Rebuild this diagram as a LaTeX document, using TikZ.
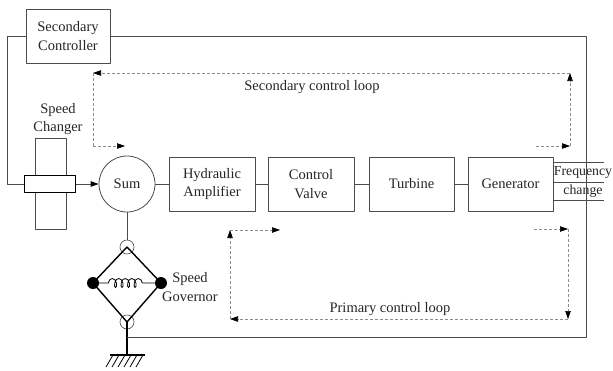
\documentclass[tikz,border=0pt]{standalone}
\usepackage{fontspec}
\setmainfont{Liberation Serif}
\usetikzlibrary{arrows.meta,decorations.pathmorphing}
\begin{document}
\begin{tikzpicture}[x=1pt,y=-1pt,line join=round,font=\fontsize{14.5}{18.5}\selectfont,text=black!85,
	>={Triangle[length=8pt,width=5.5pt,color=black]},
	ln/.style={draw=black!70,line width=0.8pt},
	blk/.style={ln,minimum width=86pt,minimum height=54pt,align=center,inner sep=0pt},
	lp/.style={densely dashed,draw=black!45,line width=0.6pt},
	pivot/.style={circle,draw=black!70,line width=0.6pt,minimum size=14pt,inner sep=0pt},
	ball/.style={circle,fill=black,minimum size=12pt,inner sep=0pt}]
	\useasboundingbox (0,0) rectangle (613,370);
	\node[blk,minimum width=84pt] (sec) at (68,36) {Secondary\\Controller};
	\node[ln,minimum width=31pt,minimum height=91pt,inner sep=0pt] (chgv) at (50.5,183.5) {};
	\node[draw,fill=white,line width=1.5pt,minimum width=51pt,minimum height=17pt,inner sep=0pt] (chg) at (50,184) {};
	\node[align=center] (chglbl) at (58,119) {Speed\\Changer};
	\node[ln,circle,minimum size=56pt,inner sep=0pt] (sum) at (127,184) {Sum};
	\node[blk] (hyd) at (212,184) {Hydraulic\\Amplifier};
	\node[blk] (val) at (311,184) {Control\\Valve};
	\node[blk,minimum width=85pt] (tur) at (411.5,184) {Turbine};
	\node[blk,minimum width=85pt] (gen) at (510.5,184) {Generator};
	\node[align=center,inner sep=0pt,font=\fontsize{13.8}{18.5}\selectfont] (frq) at (583,182) {Frequency\\change};
	\draw[ln] (sum) -- (hyd) (hyd) -- (val) (val) -- (tur) (tur) -- (gen);
	\draw[ln,->] (chg) -- (sum);
	\draw[ln] (gen.north east) ++(0,6) -- ++(51,0);
	\draw[ln] (gen.east) ++(0,-2) -- ++(51,0);
	\draw[ln] (gen.south east) ++(0,-11) -- ++(51,0);
	\node[pivot] (gt) at (127,247) {};
	\node[pivot] (gb) at (127,322) {};
	\node[ball] (gl) at (93,283) {};
	\node[ball] (gr) at (161,283) {};
	\coordinate (gnd) at (127,355);
	\draw[ln] (sum) -- (gt);
	\draw[line width=1.4pt] (gt.center) -- (gl.center) -- (gb.center) -- (gr.center) -- cycle;
	\draw[line width=0.8pt,decorate,decoration={coil,aspect=0.55,segment length=6.5pt,amplitude=4.5pt,pre length=9pt,post length=7pt}] (gl) -- (gr);
	\draw[line width=1.4pt] (gb.center) -- (gnd);
	\draw[line width=1.2pt] (gnd) ++(-17,0) -- ++(35,0);
	\foreach \i in {0,...,5} \draw[line width=0.8pt] (113+6*\i,355) -- ++(-7,12);
	\node[align=center] (govlbl) at (190,287) {Speed\\Governor};
	\draw[ln] (sec.west) -- (7,36) -- (7,184) -- (chg.west);
	\draw[ln] (sec.east) -- (586,36) -- (586,337) -- (gnd |- 0,337);
	\draw[lp,->] (536,146) -- (570,146);
	\draw[lp,->] (570,146) -- (570,73);
	\draw[lp,->] (570,73) -- (93,73);
	\draw[lp] (93,73) -- (93,146);
	\draw[lp,->] (93,146) -- (125,146);
	\node (seclbl) at (312,87) {Secondary control loop};
	\draw[lp,->] (534,229) -- (568,229);
	\draw[lp,->] (568,229) -- (568,319);
	\draw[lp,->] (568,319) -- (230,319);
	\draw[lp,->] (230,319) -- (230,230);
	\draw[lp,->] (230,230) -- (280,230);
	\node (prilbl) at (390,309) {Primary control loop};
\end{tikzpicture}
\end{document}
